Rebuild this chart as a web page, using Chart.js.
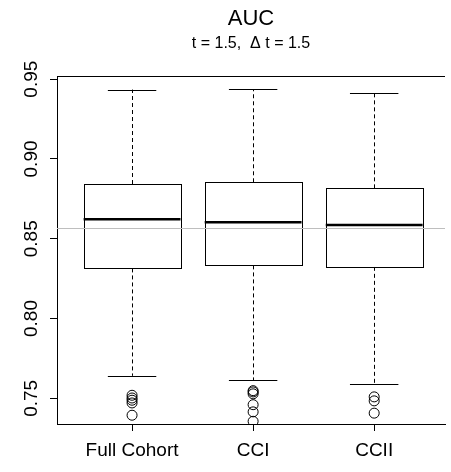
<!DOCTYPE html>
<html lang="en">
<head>
    <meta charset="UTF-8">
    <title>AUC boxplot</title>
    <script src="https://cdn.jsdelivr.net/npm/chart.js"></script>
    <style>
        body {
            margin: 0;
            background: #fff;
        }
        #wrap {
            width: 451px;
            height: 472px;
        }
    </style>
</head>
<body>
    <div id="wrap">
        <canvas id="boxChart" width="451" height="472"></canvas>
    </div>

    <script>
        // groups along the x axis
        const categories = ["Full Cohort", "CCI", "CCII"];

        // five-number summaries
        const whiskerLow  = [0.7641, 0.7614, 0.7588];
        const q1          = [0.8314, 0.8333, 0.8324];
        const medians     = [0.8622, 0.8603, 0.8586];
        const q3          = [0.8843, 0.8854, 0.8816];
        const whiskerHigh = [0.9435, 0.9438, 0.9414];

        // outliers per group
        const outliersFull = [0.7519, 0.7502, 0.7488, 0.7471, 0.7394];
        const outliersCCI  = [0.7548, 0.7540, 0.7528, 0.7460, 0.7415, 0.7356];
        const outliersCCII = [0.7509, 0.7484, 0.7407];

        // horizontal reference value (grey line)
        const refValue = 0.8567;

        const yTicks = [0.75, 0.80, 0.85, 0.90, 0.95];

        const FONT = "'Liberation Sans', Arial, sans-serif";
        const BOX_HALF = 0.4;
        const CAP_HALF = 0.2;

        // boxes, whiskers and medians drawn through the chart's scales
        const boxPlugin = {
            id: 'boxes',
            beforeDatasetsDraw(chart) {
                const { ctx, scales: { x, y } } = chart;
                ctx.save();
                ctx.strokeStyle = '#000';
                categories.forEach((c, i) => {
                    const cx = Math.round(x.getPixelForValue(i + 1)) + 0.5;
                    const left = x.getPixelForValue(i + 1 - BOX_HALF);
                    const right = x.getPixelForValue(i + 1 + BOX_HALF);
                    const capL = x.getPixelForValue(i + 1 - CAP_HALF);
                    const capR = x.getPixelForValue(i + 1 + CAP_HALF);
                    const yLo = y.getPixelForValue(whiskerLow[i]);
                    const yQ1 = y.getPixelForValue(q1[i]);
                    const yMed = y.getPixelForValue(medians[i]);
                    const yQ3 = y.getPixelForValue(q3[i]);
                    const yHi = y.getPixelForValue(whiskerHigh[i]);

                    // dashed whiskers
                    ctx.lineWidth = 1;
                    ctx.setLineDash([4, 3]);
                    ctx.beginPath();
                    ctx.moveTo(cx, yQ3);
                    ctx.lineTo(cx, yHi);
                    ctx.moveTo(cx, yQ1);
                    ctx.lineTo(cx, yLo);
                    ctx.stroke();
                    ctx.setLineDash([]);

                    // caps
                    ctx.beginPath();
                    ctx.moveTo(capL, Math.round(yHi) + 0.5);
                    ctx.lineTo(capR, Math.round(yHi) + 0.5);
                    ctx.moveTo(capL, Math.round(yLo) + 0.5);
                    ctx.lineTo(capR, Math.round(yLo) + 0.5);
                    ctx.stroke();

                    // box
                    ctx.fillStyle = '#fff';
                    ctx.fillRect(left, yQ3, right - left, yQ1 - yQ3);
                    ctx.strokeRect(Math.round(left) + 0.5, Math.round(yQ3) + 0.5,
                        Math.round(right - left), Math.round(yQ1 - yQ3));

                    // median
                    ctx.lineWidth = 2.5;
                    ctx.beginPath();
                    ctx.moveTo(left, yMed);
                    ctx.lineTo(right, yMed);
                    ctx.stroke();
                });
                ctx.restore();
            },
            afterDraw(chart) {
                const { ctx, scales: { y }, chartArea } = chart;
                ctx.save();
                // grey reference line
                const yr = Math.round(y.getPixelForValue(refValue)) + 0.5;
                ctx.strokeStyle = '#bebebe';
                ctx.lineWidth = 1;
                ctx.beginPath();
                ctx.moveTo(chartArea.left, yr);
                ctx.lineTo(chartArea.right, yr);
                ctx.stroke();
                // top frame line
                ctx.strokeStyle = '#000';
                ctx.beginPath();
                ctx.moveTo(chartArea.left, Math.round(chartArea.top) + 0.5);
                ctx.lineTo(chartArea.right, Math.round(chartArea.top) + 0.5);
                ctx.stroke();
                ctx.restore();
            }
        };

        const outlierStyle = {
            pointStyle: 'circle',
            pointRadius: 5,
            pointHoverRadius: 5,
            borderWidth: 1,
            borderColor: '#000',
            backgroundColor: 'rgba(0,0,0,0)'
        };

        const ctx = document.getElementById('boxChart').getContext('2d');
        const boxChart = new Chart(ctx, {
            type: 'scatter',
            data: {
                datasets: [
                    { label: categories[0], data: outliersFull.map(v => ({ x: 1, y: v })), ...outlierStyle },
                    { label: categories[1], data: outliersCCI.map(v => ({ x: 2, y: v })), ...outlierStyle },
                    { label: categories[2], data: outliersCCII.map(v => ({ x: 3, y: v })), ...outlierStyle }
                ]
            },
            options: {
                responsive: false,
                animation: false,
                layout: { padding: 0 },
                plugins: {
                    legend: { display: false },
                    tooltip: { enabled: false },
                    title: {
                        display: true,
                        text: 'AUC',
                        fullSize: false,
                        color: '#000',
                        font: { family: FONT, size: 22, weight: 'normal' },
                        padding: { top: 6, bottom: 2 }
                    },
                    subtitle: {
                        display: true,
                        text: 't = 1.5,  \u0394 t = 1.5',
                        fullSize: false,
                        color: '#000',
                        font: { family: FONT, size: 16, weight: 'normal' },
                        padding: { top: 0, bottom: 22.4 }
                    }
                },
                scales: {
                    x: {
                        type: 'linear',
                        min: 0.38,
                        max: 3.585,
                        afterBuildTicks: s => { s.ticks = [1, 2, 3].map(v => ({ value: v })); },
                        afterFit: s => { s.height = 48; },
                        ticks: {
                            color: '#000',
                            font: { family: FONT, size: 19 },
                            padding: 8,
                            maxRotation: 0,
                            autoSkip: false,
                            callback: v => categories[v - 1]
                        },
                        grid: { drawOnChartArea: false, tickLength: 7, color: '#000' },
                        border: { display: true, color: '#000' }
                    },
                    y: {
                        min: 0.7339,
                        max: 0.952,
                        afterBuildTicks: s => { s.ticks = yTicks.map(v => ({ value: v })); },
                        afterFit: s => { s.width = 57; },
                        ticks: {
                            color: '#000',
                            font: { family: FONT, size: 19 },
                            minRotation: 90,
                            maxRotation: 90,
                            crossAlign: 'center',
                            padding: 0,
                            autoSkip: false,
                            callback: v => v.toFixed(2)
                        },
                        grid: { drawOnChartArea: false, tickLength: 7, color: '#000' },
                        border: { display: true, color: '#000' }
                    }
                }
            },
            plugins: [boxPlugin]
        });
    </script>
</body>
</html>
